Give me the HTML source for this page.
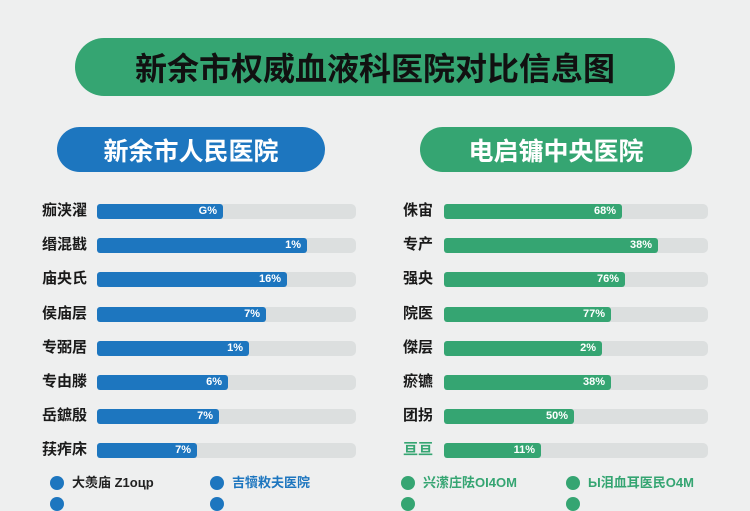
<!DOCTYPE html>
<html><head><meta charset="utf-8"><style>
body{margin:0;width:750px;height:500px;background:#eeefef;overflow:hidden;position:relative;font-family:"Liberation Sans","Noto Sans CJK SC",sans-serif}
.pill{position:absolute;border-radius:30px;display:flex;align-items:center;justify-content:center;font-weight:bold}
.lab{position:absolute;font-size:15px;font-weight:bold;color:#1a1a1a;text-align:right;width:70px;line-height:16px}
.tr{position:absolute;height:15px;background:#dcdfdf;border-radius:5px}
.fl{position:absolute;height:15px;border-radius:3px;color:#fff;font-size:11px;font-weight:bold;text-align:right;line-height:15px;box-sizing:border-box;padding-right:6px}
.dot{position:absolute;width:14px;height:14px;border-radius:50%}
.lg{position:absolute;font-size:13px;font-weight:bold;line-height:16px}
</style></head><body>
<div class="pill" style="left:75px;top:38px;width:600px;height:58px;background:#35a572;color:#111;font-size:32px">新余市权威血液科医院对比信息图</div>
<div class="pill" style="left:57px;top:127px;width:268px;height:45px;background:#1d76bf;color:#fff;font-size:25px">新余市人民医院</div>
<div class="pill" style="left:420px;top:127px;width:272px;height:45px;background:#35a572;color:#fff;font-size:25px">电启镛中央医院</div>
<div id="c"></div>
<script>
var L=[["痂浃濯",223,"G%"],["缗混戡",307,"1%"],["庙央氏",287,"16%"],["侯庙层",266,"7%"],["专弼居",249,"1%"],["专由滕",228,"6%"],["岳鏣殷",219,"7%"],["荴痄床",197,"7%"]];
var R=[["侏宙",622,"68%"],["专产",658,"38%"],["强央",625,"76%"],["院医",611,"77%"],["傑层",602,"2%"],["瘀镳",611,"38%"],["团拐",574,"50%"],["亘亘",541,"11%"]];
var h="";
for(var i=0;i<8;i++){var y=204+i*34.2;
h+='<div class="lab" style="left:17px;top:'+(y-1)+'px">'+L[i][0]+'</div>';
h+='<div class="tr" style="left:97px;top:'+y+'px;width:259px"></div>';
h+='<div class="fl" style="left:97px;top:'+y+'px;width:'+(L[i][1]-97)+'px;background:#1d76bf">'+L[i][2]+'</div>';
h+='<div class="lab" style="left:363px;top:'+(y-1)+'px;color:'+(i==7?'#35a572':'#1a1a1a')+'">'+R[i][0]+'</div>';
h+='<div class="tr" style="left:444px;top:'+y+'px;width:264px"></div>';
h+='<div class="fl" style="left:444px;top:'+y+'px;width:'+(R[i][1]-444)+'px;background:#35a572">'+R[i][2]+'</div>';}
var lg=[[57,"#1d76bf","#222","大羡庙 Z1oцр"],[217,"#1d76bf","#1d76bf","吉犢敉夫医院"],[408,"#35a572","#35a572","兴潆庄阹OI4OM"],[573,"#35a572","#35a572","Ы泪血耳医民O4M"]];
for(var j=0;j<4;j++){var g=lg[j];
h+='<div class="dot" style="left:'+(g[0]-7)+'px;top:476px;background:'+g[1]+'"></div>';
h+='<div class="lg" style="left:'+(g[0]+15)+'px;top:475px;color:'+g[2]+'">'+g[3]+'</div>';
h+='<div class="dot" style="left:'+(g[0]-7)+'px;top:497px;background:'+g[1]+'"></div>';}
document.getElementById("c").innerHTML=h;
</script>
</body></html>
